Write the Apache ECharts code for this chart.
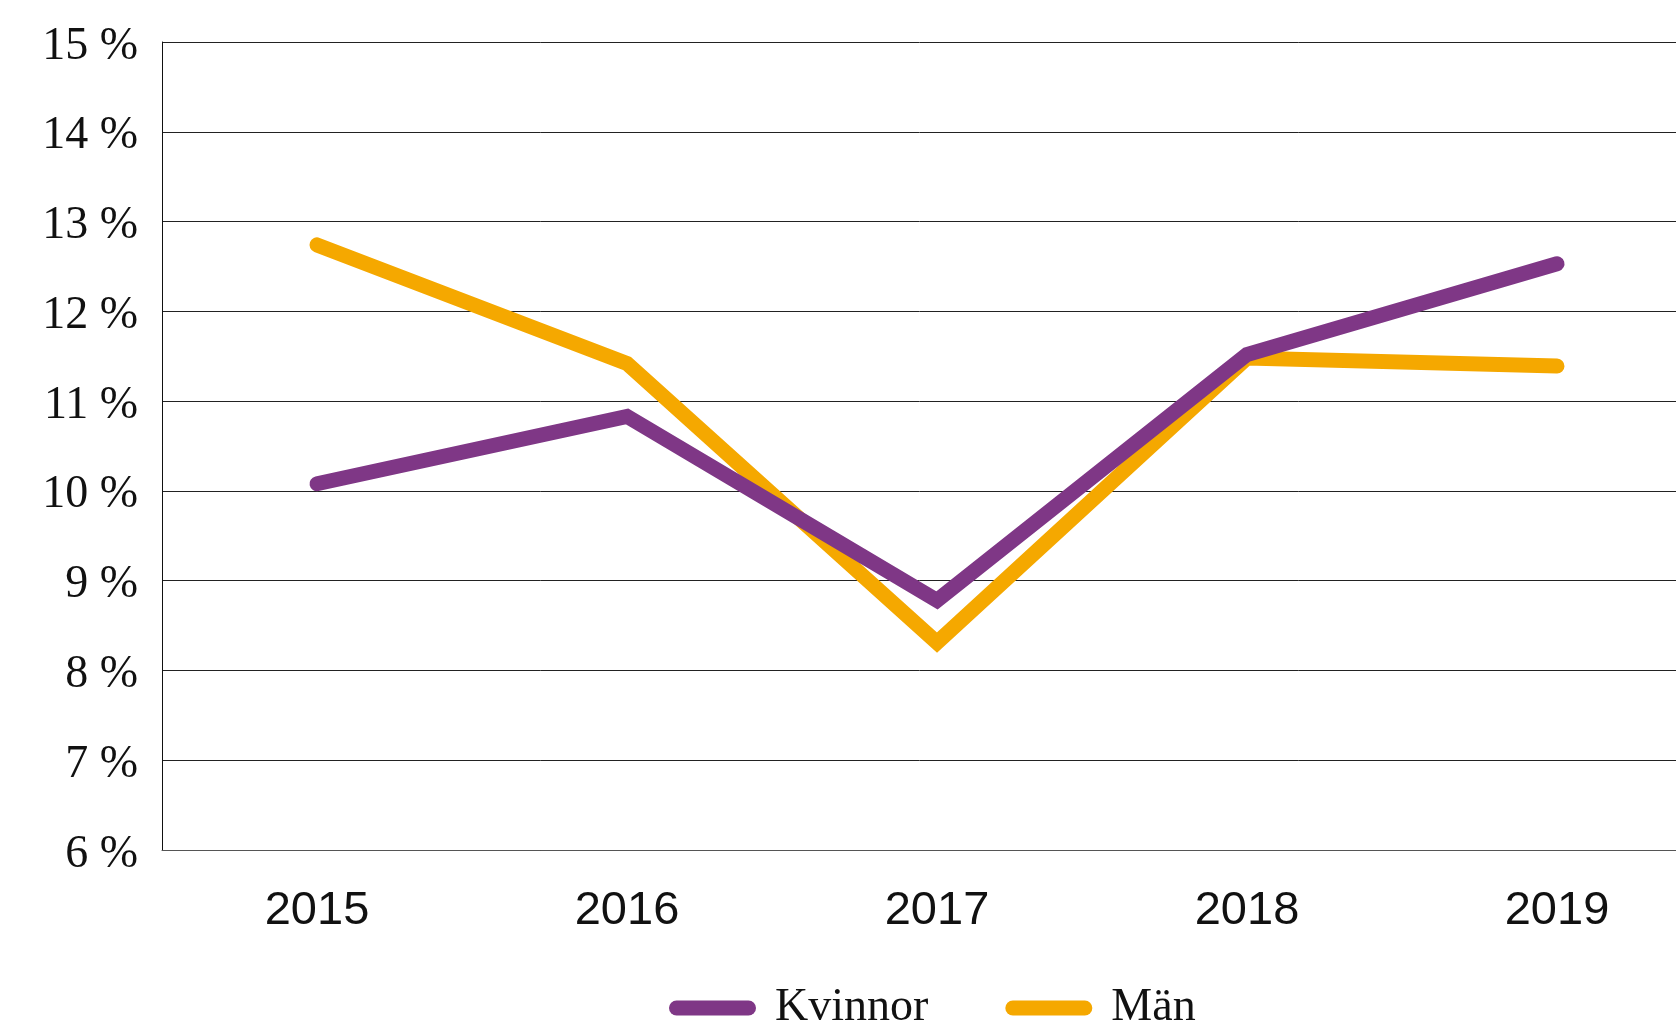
<!DOCTYPE html>
<html lang="sv">

<head>
  <meta charset="UTF-8">
  <title>Kvinnor och män</title>
  <style>
    html, body { margin: 0; padding: 0; background: #fff; }
    #chart { width: 1676px; height: 1023px; }
  </style>
</head>

<body>
<div id="chart"></div>
<script src="https://cdn.jsdelivr.net/npm/echarts@6/dist/echarts.min.js"></script>
<script>

const years = ['2015', '2016', '2017', '2018', '2019'];
const kvinnor = [10.08, 10.83, 8.78, 11.52, 12.53];
const man = [12.74, 11.42, 8.31, 11.48, 11.39];

// rundad linje för legenden
const legendIcon = 'path://M7.5,0 H79.5 A7.5,7.5 0 0 1 79.5,15 H7.5 A7.5,7.5 0 0 1 7.5,0 Z';

let myChart = echarts.init(document.getElementById('chart'));
myChart.setOption({
  animation: false,
  grid: {
    left: 162,
    right: -36,
    top: 42,
    bottom: 173,
    containLabel: false,
    outerBoundsMode: 'none'
  },
  legend: {
    data: [
      { name: 'Kvinnor', icon: legendIcon },
      { name: 'Män', icon: legendIcon }
    ],
    left: 664,
    top: 980,
    itemWidth: 87,
    itemHeight: 15,
    itemGap: 77,
    textStyle: {
      fontFamily: 'Liberation Serif',
      fontSize: 46,
      color: '#111',
      padding: [0, 0, 0, 14]
    }
  },
  xAxis: {
    type: 'category',
    data: years,
    boundaryGap: true,
    axisLine: { lineStyle: { color: '#555', width: 1 } },
    axisTick: { show: false },
    axisLabel: {
      fontFamily: 'Liberation Sans',
      fontSize: 47,
      color: '#111',
      margin: 38
    }
  },
  yAxis: {
    type: 'value',
    min: 6,
    max: 15,
    interval: 1,
    axisLine: { show: true, lineStyle: { color: '#111', width: 1 } },
    axisTick: { show: false },
    splitLine: { lineStyle: { color: '#222', width: 1 } },
    axisLabel: {
      formatter: '{a|{value} %}',
      margin: 24,
      rich: {
        a: {
          fontFamily: 'Liberation Serif',
          fontSize: 46,
          color: '#111',
          padding: [9, 0, 0, 0]
        }
      }
    }
  },
  series: [
    {
      name: 'Män',
      type: 'line',
      data: man,
      z: 2,
      symbol: 'none',
      itemStyle: { color: '#F5A800' },
      lineStyle: { color: '#F5A800', width: 15, cap: 'round', join: 'miter' }
    },
    {
      name: 'Kvinnor',
      type: 'line',
      data: kvinnor,
      z: 3,
      symbol: 'none',
      itemStyle: { color: '#7F3786' },
      lineStyle: { color: '#7F3786', width: 15, cap: 'round', join: 'miter' }
    }
  ]
});
</script>
</body>

</html>
